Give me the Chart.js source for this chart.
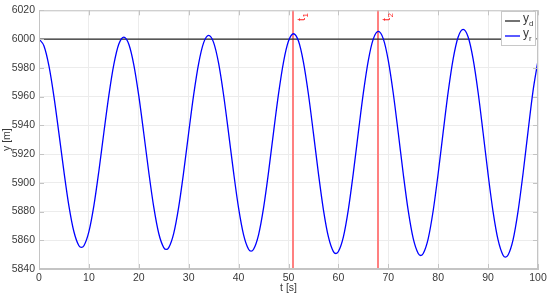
<!DOCTYPE html>
<html>
<head>
<meta charset="utf-8">
<script src="https://cdn.jsdelivr.net/npm/chart.js@4"></script>
<style>
  html, body { margin: 0; padding: 0; background: #fff; }
  #chart { display: block; }
</style>
</head>
<body>
<canvas id="chart" width="550" height="301"></canvas>
<script>
// time axis [s] - peaks near whole numbers, troughs at x.5
const tValues = [
  0, 1, 2, 3, 4, 5, 6, 7, 8, 8.5, 9, 10, 11, 12, 13, 14, 15, 16, 17,
  18, 19, 20, 21, 22, 23, 24, 25, 25.5, 26, 27, 28, 29, 30, 31, 32, 33, 34,
  35, 36, 37, 38, 39, 40, 41, 42, 42.5, 43, 44, 45, 46, 47, 48, 49, 50, 51,
  52, 53, 54, 55, 56, 57, 58, 59, 59.5, 60, 61, 62, 63, 64, 65, 66, 67, 68,
  69, 70, 71, 72, 73, 74, 75, 76, 76.5, 77, 78, 79, 80, 81, 82, 83, 84, 85,
  86, 87, 88, 89, 90, 91, 92, 93, 93.5, 94, 95, 96, 97, 98, 99, 100
];
// y_r [m]
const yrValues = [
  6000, 5995.1, 5981.1, 5959.8, 5934.2, 5907.7, 5883.8, 5865.9, 5856.2, 5855, 5856.2, 5866.0, 5884.1, 5908.2, 5935.0, 5960.8, 5982.3, 5996.5, 6001.4,
  5996.4, 5982.1, 5960.4, 5934.3, 5907.3, 5883.0, 5864.7, 5854.9, 5853.6, 5854.9, 5864.8, 5883.2, 5907.7, 5935.0, 5961.3, 5983.1, 5997.5, 6002.5,
  5997.5, 5983.0, 5960.9, 5934.4, 5907.0, 5882.3, 5863.7, 5853.7, 5852.4, 5853.7, 5863.8, 5882.5, 5907.4, 5935.1, 5961.8, 5984.0, 5998.6, 6003.7,
  5998.6, 5983.8, 5961.4, 5934.4, 5906.4, 5881.2, 5862.3, 5852.1, 5850.8, 5852.2, 5862.4, 5881.5, 5907.0, 5935.2, 5962.5, 5985.2, 6000.1, 6005.3,
  6000.1, 5985.0, 5962.1, 5934.6, 5906.1, 5880.4, 5861.1, 5850.8, 5849.4, 5850.8, 5861.2, 5880.7, 5906.6, 5935.4, 5963.2, 5986.2, 6001.4, 6006.7,
  6001.4, 5986.0, 5962.8, 5934.8, 5905.8, 5879.8, 5860.2, 5849.6, 5848.3, 5849.7, 5860.3, 5880.1, 5906.3, 5935.6, 5963.8, 5985.0
];
// y_d reference
const ydTimes = [0, 100];
const ydValues = [6000, 6000];
// marked instants
const eventTimes = [51, 68];
const eventLabels = ['1', '2'];

const xTicks = [0, 10, 20, 30, 40, 50, 60, 70, 80, 90, 100];
const yTicks = [5840, 5860, 5880, 5900, 5920, 5940, 5960, 5980, 6000, 6020];

const FONT = '"Liberation Sans Narrow", "Liberation Sans", Arial, sans-serif';
const TXT = '#3a3a3a';
const AXIS = '#c4c4c4';

const extras = {
  id: 'extras',
  beforeDatasetsDraw(chart) {
    const { ctx, chartArea: a, scales: { x } } = chart;
    ctx.save();
    ctx.strokeStyle = '#ff8080';
    ctx.lineWidth = 2;
    eventTimes.forEach(t => {
      const px = Math.round(x.getPixelForValue(t));
      ctx.beginPath();
      ctx.moveTo(px, a.top);
      ctx.lineTo(px, a.bottom);
      ctx.stroke();
    });
    ctx.restore();
  },
  afterDraw(chart) {
    const { ctx, chartArea: a, scales: { x, y } } = chart;
    ctx.save();
    // box + inward ticks
    ctx.strokeStyle = AXIS;
    ctx.lineWidth = 1;
    ctx.strokeRect(a.left + 0.5, a.top + 0.5, a.right - a.left - 1, a.bottom - a.top - 1);
    ctx.beginPath();
    xTicks.forEach(v => {
      const px = Math.round(x.getPixelForValue(v)) + 0.5;
      ctx.moveTo(px, a.bottom); ctx.lineTo(px, a.bottom - 5);
      ctx.moveTo(px, a.top); ctx.lineTo(px, a.top + 5);
    });
    yTicks.forEach(v => {
      const py = Math.round(y.getPixelForValue(v)) + 0.5;
      ctx.moveTo(a.left, py); ctx.lineTo(a.left + 5, py);
      ctx.moveTo(a.right, py); ctx.lineTo(a.right - 5, py);
    });
    ctx.stroke();

    // axis titles
    ctx.fillStyle = TXT;
    ctx.font = '10.5px ' + FONT;
    ctx.textAlign = 'center';
    ctx.textBaseline = 'middle';
    ctx.fillText('t [s]', (a.left + a.right) / 2, 288);
    ctx.save();
    ctx.translate(7, (a.top + a.bottom) / 2);
    ctx.rotate(-Math.PI / 2);
    ctx.fillText('y [m]', 0, 0);
    ctx.restore();

    // event labels, rotated
    ctx.fillStyle = '#ff1a1a';
    eventTimes.forEach((t, i) => {
      const px = x.getPixelForValue(t);
      ctx.save();
      ctx.translate(px + 12, 21);
      ctx.rotate(-Math.PI / 2);
      ctx.textAlign = 'left';
      ctx.textBaseline = 'alphabetic';
      ctx.font = '11px ' + FONT;
      ctx.fillText('t', 0, 0);
      const w = ctx.measureText('t').width;
      ctx.font = '8px ' + FONT;
      ctx.fillText(eventLabels[i], w + 0.5, 3);
      ctx.restore();
    });

    // legend
    const lx = 501, ly = 11, lw = 34, lh = 34;
    ctx.fillStyle = '#fff';
    ctx.fillRect(lx, ly, lw, lh);
    ctx.strokeStyle = '#c8c8c8';
    ctx.strokeRect(lx + 0.5, ly + 0.5, lw, lh);
    const items = [
      { sub: 'd', color: '#262626', yy: ly + 10 },
      { sub: 'r', color: '#0000ff', yy: ly + 25 }
    ];
    items.forEach(it => {
      ctx.strokeStyle = it.color;
      ctx.lineWidth = 1.3;
      ctx.beginPath();
      ctx.moveTo(lx + 4, it.yy);
      ctx.lineTo(lx + 19, it.yy);
      ctx.stroke();
      ctx.fillStyle = TXT;
      ctx.textAlign = 'left';
      ctx.textBaseline = 'middle';
      ctx.font = '12px ' + FONT;
      ctx.fillText('y', lx + 22, it.yy - 2);
      ctx.font = '8px ' + FONT;
      ctx.fillText(it.sub, lx + 28, it.yy + 3);
    });
    ctx.restore();
  }
};

new Chart(document.getElementById('chart'), {
  type: 'line',
  data: {
    datasets: [
      {
        label: 'y_r',
        data: tValues.map((t, i) => ({ x: t, y: yrValues[i] })),
        borderColor: '#0000ff',
        borderWidth: 1.3,
        pointRadius: 0,
        cubicInterpolationMode: 'monotone',
        fill: false
      },
      {
        label: 'y_d',
        data: ydTimes.map((t, i) => ({ x: t, y: ydValues[i] })),
        borderColor: '#262626',
        borderWidth: 1.3,
        pointRadius: 0,
        fill: false
      }
    ]
  },
  options: {
    responsive: false,
    animation: false,
    events: [],
    layout: { padding: { top: 8, right: 12, left: 0, bottom: 0 } },
    plugins: { legend: { display: false }, tooltip: { enabled: false } },
    scales: {
      x: {
        type: 'linear', min: 0, max: 100,
        afterFit(s) { s.height = 32; },
        afterBuildTicks(s) { s.ticks = xTicks.map(v => ({ value: v })); },
        ticks: { color: TXT, font: { family: FONT, size: 10.5 }, padding: 3, maxRotation: 0, autoSkip: false, callback: v => String(v) },
        grid: { color: '#ececec', drawTicks: false },
        border: { color: AXIS }
      },
      y: {
        type: 'linear', min: 5840, max: 6020,
        afterFit(s) { s.width = 39; },
        afterBuildTicks(s) { s.ticks = yTicks.map(v => ({ value: v })); },
        ticks: { color: TXT, font: { family: FONT, size: 10.5 }, padding: 4, autoSkip: false, callback: v => String(v) },
        grid: { color: '#ececec', drawTicks: false },
        border: { color: AXIS }
      }
    }
  },
  plugins: [extras]
});
</script>
</body>
</html>
